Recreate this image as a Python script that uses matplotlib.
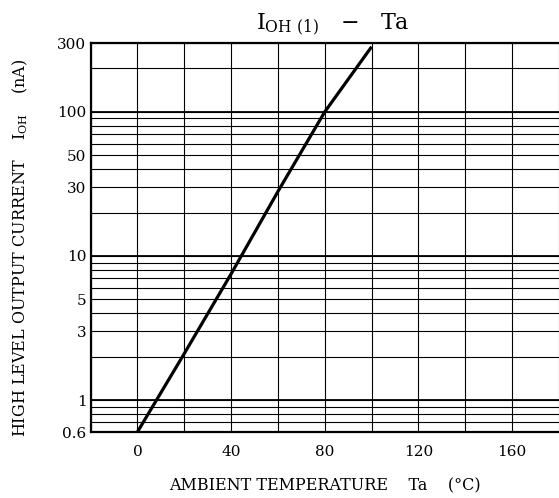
import matplotlib
matplotlib.use('Agg')
import matplotlib.pyplot as plt
from matplotlib.ticker import FixedLocator, NullFormatter

# ------------------------------------------------------------------------------
# Data
# ------------------------------------------------------------------------------
temp = [0, 20, 40, 60, 80, 100]
ioh = [0.6, 2.1, 7.5, 28, 100, 283]

x_major = [0, 40, 80, 120, 160]
x_minor = [-20, 20, 60, 100, 140, 180]
y_major = [0.6, 1, 3, 5, 10, 30, 50, 100, 300]
y_labels = ['0.6', '1', '3', '5', '10', '30', '50', '100', '300']
y_minor = [0.7, 0.8, 0.9, 2, 4, 6, 7, 8, 9, 20, 40, 60, 70, 80, 90, 200]
y_decades = [1, 10, 100]

plt.rcParams['font.family'] = ['DejaVu Serif']
plt.rcParams['mathtext.fontset'] = 'dejavuserif'

fig = plt.figure(figsize=(5.59, 4.98), dpi=100)
ax = fig.add_axes([0.162, 0.1325, 0.838, 0.781])

ax.plot(temp, ioh, color='black', linewidth=2.3, solid_capstyle='butt',
        zorder=3)

ax.set_yscale('log')
ax.set_xlim(-20, 180)
ax.set_ylim(0.6, 300)

ax.xaxis.set_major_locator(FixedLocator(x_major))
ax.xaxis.set_minor_locator(FixedLocator(x_minor))
ax.yaxis.set_major_locator(FixedLocator(y_major))
ax.yaxis.set_minor_locator(FixedLocator(y_minor))
ax.set_yticklabels(y_labels)
ax.yaxis.set_minor_formatter(NullFormatter())

ax.tick_params(which='both', length=0)
ax.tick_params(axis='x', pad=9, labelsize=11)
ax.tick_params(axis='y', pad=3, labelsize=11)

ax.grid(True, which='both', color='black', linewidth=0.8)
for yv in y_decades:
    ax.axhline(yv, color='black', linewidth=1.3, zorder=2)

for side in ['left', 'bottom', 'top']:
    ax.spines[side].set_linewidth(1.6)
ax.spines['right'].set_visible(False)

fig.text(333 / 559, 1 - 30 / 498, r'$\mathregular{I_{OH\ (1)}}$   $-$   Ta',
         ha='center', va='baseline', fontsize=16)
fig.text(325 / 559, 1 - 490 / 498, 'AMBIENT TEMPERATURE    Ta    (°C)',
         ha='center', va='baseline', fontsize=11.5)
fig.text(20 / 559, 1 - 248 / 498,
         r'HIGH LEVEL OUTPUT CURRENT    $\mathregular{I_{OH}}$    (nA)',
         ha='center', va='center', rotation=90, fontsize=11.5)

plt.savefig('out.png', dpi=100)
